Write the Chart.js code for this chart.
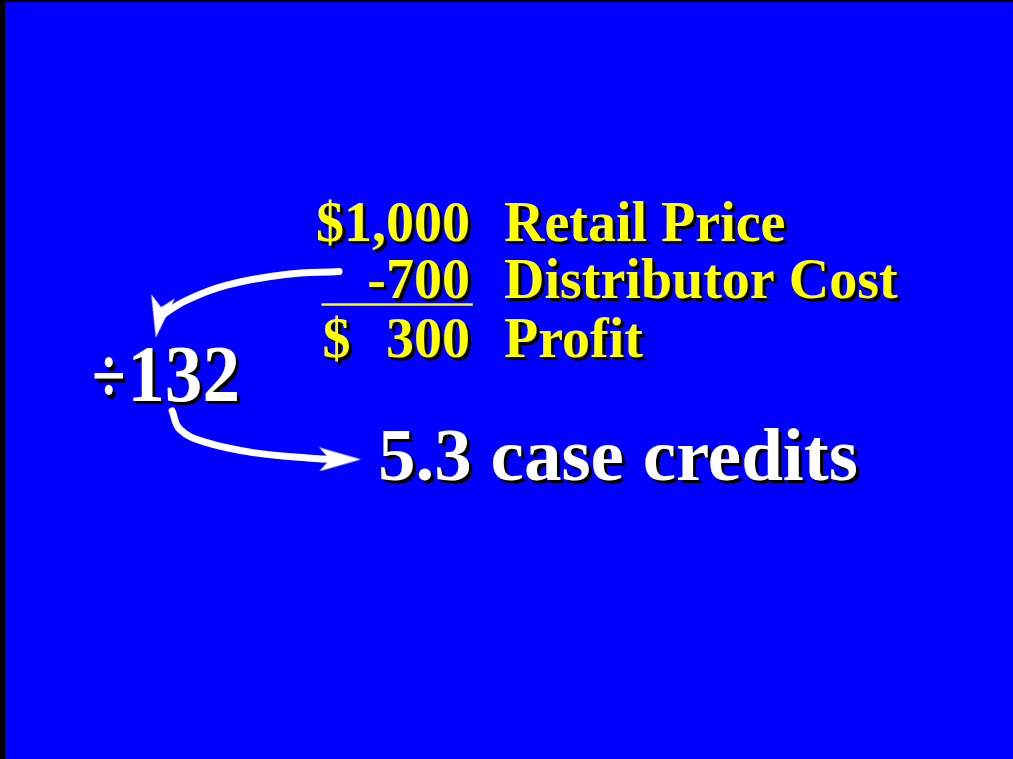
<!DOCTYPE html>
<html>
<head>
<meta charset="utf-8">
<script src="https://cdn.jsdelivr.net/npm/chart.js@4/dist/chart.umd.min.js"></script>
<style>
  html, body { margin: 0; padding: 0; background: #000; }
  canvas { display: block; }
</style>
</head>
<body>
<canvas id="slide" width="1013" height="759"></canvas>
<script>
// slide values
const retailPrice = 1000;
const distributorCost = 700;
const profit = retailPrice - distributorCost;
const caseDivisor = 132;
const caseCredits = 5.3;
const rowLabels = ["Retail Price", "Distributor Cost", "Profit"];
const resultLabel = "case credits";

// layout (page coordinates, y down)
const FONT = "'Liberation Serif', 'Times New Roman', serif";
const layout = {
  amountRight: 469,
  dollarLeft: 318,
  labelLeft: 504,
  rowBaselines: [236, 295, 356],
  rule: { x1: 317, x2: 472, y: 302 },
  divSign: { x: 82, y: 403 },
  divisor: { x: 118, y: 402 },
  result: { x: 375, y: 483 },
};
const arrowToDivisor = [
  { x: 335, y: 268 }, { x: 280, y: 271 }, { x: 220, y: 282 },
  { x: 178, y: 298 }, { x: 151, y: 315 },
];
const arrowToResult = [
  { x: 164, y: 412 }, { x: 172, y: 431 }, { x: 197, y: 444 },
  { x: 247, y: 455 }, { x: 310, y: 461 }, { x: 336, y: 462 },
];

function makeHead() {
  const c = document.createElement("canvas");
  c.width = 24;
  c.height = 42;
  const g = c.getContext("2d");
  g.fillStyle = "#ffffff";
  g.beginPath();
  g.moveTo(12, 0);
  g.lineTo(24, 42);
  g.lineTo(12, 31);
  g.lineTo(0, 42);
  g.closePath();
  g.fill();
  return c;
}
const head = makeHead();

function arrowSet(points, rot) {
  const last = points.length - 1;
  return {
    type: "line",
    data: points,
    borderColor: "#ffffff",
    borderWidth: 7,
    borderCapStyle: "round",
    tension: 0.4,
    pointStyle: (ctx) => (ctx.dataIndex === last ? head : "circle"),
    pointRadius: (ctx) => (ctx.dataIndex === last ? 12 : 0),
    pointRotation: rot,
    pointBackgroundColor: "#ffffff",
    pointBorderWidth: 0,
  };
}

function shadowText(ctx, text, x, y, color, align) {
  ctx.textAlign = align || "left";
  ctx.fillStyle = "#000000";
  ctx.fillText(text, x + 3, y + 3);
  ctx.fillStyle = color;
  ctx.fillText(text, x, y);
}

const slidePlugin = {
  id: "slide",
  beforeDraw(chart) {
    const ctx = chart.ctx;
    ctx.save();
    ctx.fillStyle = "#000000";
    ctx.fillRect(0, 0, chart.width, chart.height);
    ctx.fillStyle = "#0000ff";
    ctx.fillRect(5, 2, chart.width - 5, chart.height - 2);
    ctx.restore();
  },
  afterDraw(chart) {
    const ctx = chart.ctx;
    const sx = chart.scales.x;
    const sy = chart.scales.y;
    const px = (v) => sx.getPixelForValue(v);
    const py = (v) => sy.getPixelForValue(v);
    const yellow = "#ffff00";
    const fmt = (n) => n.toLocaleString("en-US");
    ctx.save();
    ctx.textBaseline = "alphabetic";
    ctx.font = "bold 56px " + FONT;
    const amounts = ["$" + fmt(retailPrice), "-" + fmt(distributorCost), fmt(profit)];
    amounts.forEach((a, i) => {
      shadowText(ctx, a, px(layout.amountRight), py(layout.rowBaselines[i]), yellow, "right");
      shadowText(ctx, rowLabels[i], px(layout.labelLeft), py(layout.rowBaselines[i]), yellow, "left");
    });
    shadowText(ctx, "$", px(layout.dollarLeft), py(layout.rowBaselines[2]), yellow, "left");

    ctx.strokeStyle = yellow;
    ctx.lineWidth = 2.5;
    ctx.beginPath();
    ctx.moveTo(px(layout.rule.x1), py(layout.rule.y));
    ctx.lineTo(px(layout.rule.x2), py(layout.rule.y));
    ctx.stroke();

    // division sign, a bit taller than wide as in the slide
    ctx.save();
    ctx.translate(px(layout.divSign.x), py(layout.divSign.y));
    ctx.scale(0.85, 1.1);
    ctx.font = "bold 72px " + FONT;
    shadowText(ctx, "\u00f7", 0, 0, "#ffffff", "left");
    ctx.restore();

    // divisor digits are a little narrower than the plain font
    ctx.save();
    ctx.translate(px(layout.divisor.x), py(layout.divisor.y));
    ctx.scale(0.94, 1);
    ctx.font = "bold 80px " + FONT;
    shadowText(ctx, String(caseDivisor), 0, 0, "#ffffff", "left");
    ctx.restore();

    ctx.font = "bold 75px " + FONT;
    shadowText(ctx, caseCredits + " " + resultLabel, px(layout.result.x), py(layout.result.y), "#ffffff", "left");
    ctx.restore();
  },
};

new Chart("slide", {
  type: "scatter",
  data: {
    datasets: [arrowSet(arrowToDivisor, 190), arrowSet(arrowToResult, 90)],
  },
  options: {
    responsive: false,
    animation: false,
    layout: { padding: 0 },
    plugins: { legend: { display: false }, tooltip: { enabled: false } },
    scales: {
      x: { type: "linear", min: 0, max: 1013, display: false },
      y: { type: "linear", min: 0, max: 759, reverse: true, display: false },
    },
  },
  plugins: [slidePlugin],
});
</script>
</body>
</html>
